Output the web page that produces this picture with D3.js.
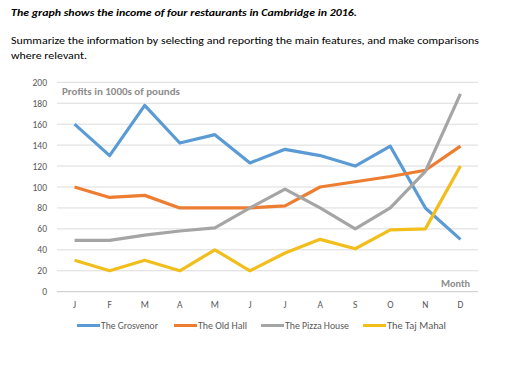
<!DOCTYPE html>
<html><head><meta charset="utf-8">
<script src="https://cdn.jsdelivr.net/npm/d3@7"></script>
<style>body{margin:0;background:#fff}svg{display:block}</style>
</head><body><svg id="c" width="512" height="366"></svg>
<script>
const months = ["J","F","M","A","M","J","J","A","S","O","N","D"];
const seriesNames = ["The Grosvenor","The Old Hall","The Pizza House","The Taj Mahal"];
const grosvenor = [160,130,178,142,150,123,136,130,120,139,80,50];
const oldHall = [100,90,92,80,80,80,82,100,105,110,116,139];
const pizzaHouse = [49,49,54,58,61,80,98,80,60,80,115,189];
const tajMahal = [30,20,30,20,40,20,37,50,41,59,60,120];
const yTicks = [0,20,40,60,80,100,120,140,160,180,200];
const colors = ["#5B9BD5","#ED7D31","#A5A5A5","#F2BE1B"];
const seriesData = [grosvenor, oldHall, pizzaHouse, tajMahal];

const svg = d3.select("#c");
const font = "Carlito, 'Liberation Sans', 'Open Sans', sans-serif";

svg.append("text").attr("x",11).attr("y",15.5).attr("font-family",font)
  .attr("font-size",10.5).attr("font-weight","bold").attr("font-style","italic")
  .attr("fill","#000").attr("textLength",346).attr("lengthAdjust","spacingAndGlyphs")
  .text("The graph shows the income of four restaurants in Cambridge in 2016.");
svg.append("text").attr("x",11).attr("y",43.5).attr("font-family",font)
  .attr("font-size",11).attr("fill","#000").attr("textLength",468).attr("lengthAdjust","spacingAndGlyphs")
  .text("Summarize the information by selecting and reporting the main features, and make comparisons");
svg.append("text").attr("x",11).attr("y",58.5).attr("font-family",font)
  .attr("font-size",11).attr("fill","#000").attr("textLength",76).attr("lengthAdjust","spacingAndGlyphs")
  .text("where relevant.");

const x = d3.scaleBand().domain(d3.range(12)).range([57,478]);
const y = d3.scaleLinear().domain([0,200]).range([291.7,82.3]);

const g = svg.append("g");
g.selectAll("line.grid").data(yTicks).join("line")
  .attr("x1",57).attr("x2",478).attr("y1",d=>y(d)).attr("y2",d=>y(d))
  .attr("stroke",d=>d===0?"#c8c8c8":"#dcdcdc").attr("stroke-width",1);

const yAxis = d3.axisLeft(y).tickValues(yTicks).tickSize(0).tickPadding(0);
svg.append("g").attr("transform","translate(47,0)").call(yAxis)
  .call(a=>a.select(".domain").remove())
  .selectAll("text").attr("font-family",font).attr("font-size",9.5).attr("fill","#595959");

const xAxis = d3.axisBottom(x).tickFormat(i=>months[i]).tickSize(0).tickPadding(0);
svg.append("g").attr("transform","translate(0,301)").call(xAxis)
  .call(a=>a.select(".domain").remove())
  .selectAll("text").attr("font-family",font).attr("font-size",9.5).attr("fill","#595959");

svg.append("text").attr("x",62).attr("y",94.5).attr("font-family",font)
  .attr("font-size",10).attr("font-weight","bold").attr("fill","#8c8c8c")
  .attr("textLength",118).attr("lengthAdjust","spacingAndGlyphs")
  .text("Profits in 1000s of pounds");
svg.append("text").attr("x",470).attr("y",286.5).attr("text-anchor","end").attr("font-family",font)
  .attr("font-size",10.5).attr("font-weight","bold").attr("fill","#8c8c8c")
  .attr("textLength",29).attr("lengthAdjust","spacingAndGlyphs").text("Month");

const line = d3.line().x((d,i)=>x(i)+x.bandwidth()/2).y(d=>y(d));
seriesData.forEach((s,k)=>{
  svg.append("path").datum(s).attr("d",line).attr("fill","none")
    .attr("stroke",colors[k]).attr("stroke-width",3.2).attr("stroke-linejoin","round");
});

const legX = [77,174,261,363];
const legW = [57,49,64,59];
const leg = svg.append("g");
seriesNames.forEach((n,k)=>{
  leg.append("line").attr("x1",legX[k]).attr("x2",legX[k]+23).attr("y1",325.5).attr("y2",325.5)
    .attr("stroke",colors[k]).attr("stroke-width",3);
  leg.append("text").attr("x",legX[k]+24).attr("y",329).attr("font-family",font)
    .attr("font-size",9.5).attr("fill","#595959")
    .attr("textLength",legW[k]).attr("lengthAdjust","spacingAndGlyphs").text(n);
});
</script></body></html>
